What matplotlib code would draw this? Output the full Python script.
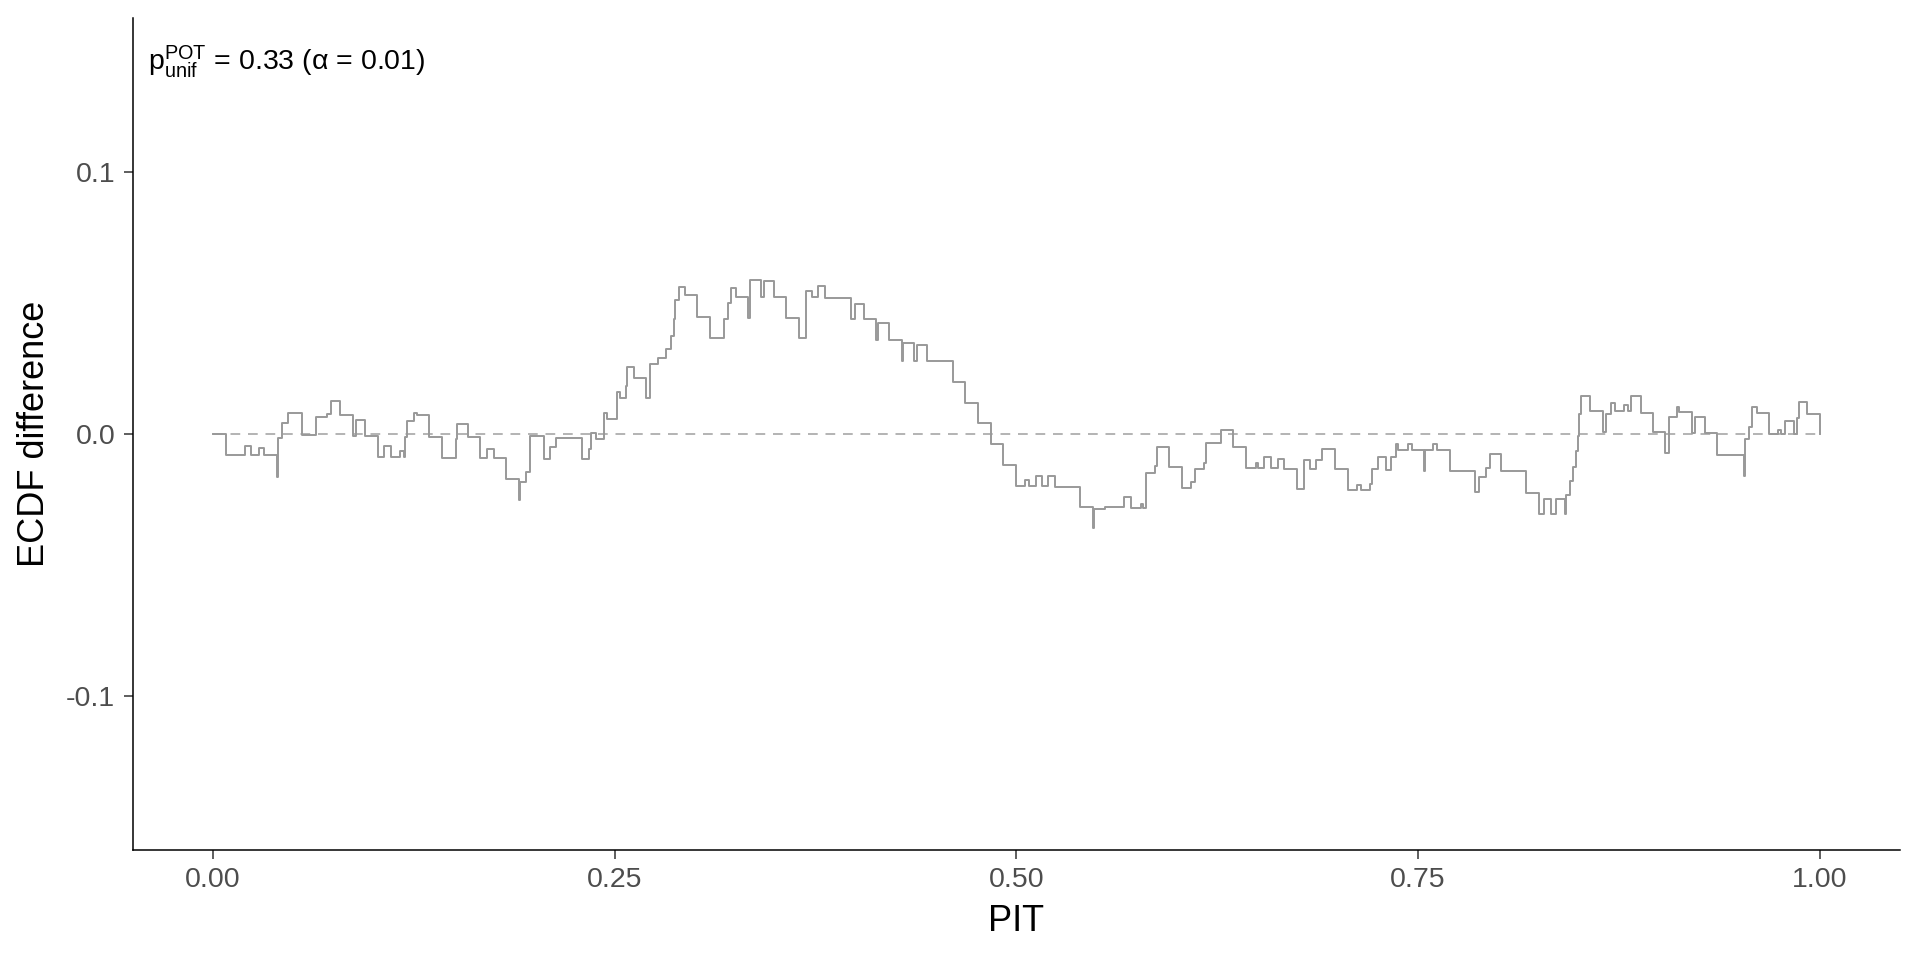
import numpy as np
import matplotlib.pyplot as plt

plt.rcParams["font.family"] = ["Liberation Sans", "DejaVu Sans"]
plt.rcParams["mathtext.fontset"] = "custom"
plt.rcParams["mathtext.rm"] = "Liberation Sans"

# step breakpoints (PIT, ECDF difference)
pit = [
    0.0000, 0.0079, 0.0199, 0.0236, 0.0286, 0.0317, 0.0396, 0.0402, 0.0427, 0.0468,
    0.0552, 0.0641, 0.0707, 0.0736, 0.0792, 0.0873, 0.0887, 0.0949, 0.1028, 0.1066,
    0.1107, 0.1163, 0.1188, 0.1192, 0.1209, 0.1252, 0.1269, 0.1346, 0.1427, 0.1511,
    0.1520, 0.1586, 0.1664, 0.1707, 0.1748, 0.1822, 0.1905, 0.1913, 0.1951, 0.1972,
    0.2060, 0.2096, 0.2133, 0.2299, 0.2338, 0.2355, 0.2382, 0.2434, 0.2452, 0.2515,
    0.2535, 0.2568, 0.2577, 0.2620, 0.2697, 0.2722, 0.2769, 0.2821, 0.2848, 0.2867,
    0.2873, 0.2900, 0.2935, 0.3012, 0.3095, 0.3180, 0.3205, 0.3221, 0.3252, 0.3331,
    0.3340, 0.3412, 0.3429, 0.3491, 0.3568, 0.3646, 0.3692, 0.3729, 0.3764, 0.3808,
    0.3968, 0.3993, 0.4049, 0.4127, 0.4137, 0.4206, 0.4289, 0.4297, 0.4366, 0.4382,
    0.4445, 0.4604, 0.4683, 0.4762, 0.4843, 0.4919, 0.4998, 0.5056, 0.5081, 0.5122,
    0.5160, 0.5199, 0.5238, 0.5396, 0.5475, 0.5485, 0.5552, 0.5672, 0.5713, 0.5775,
    0.5790, 0.5810, 0.5864, 0.5873, 0.5951, 0.6030, 0.6090, 0.6113, 0.6169, 0.6180,
    0.6273, 0.6350, 0.6429, 0.6490, 0.6507, 0.6542, 0.6588, 0.6629, 0.6667, 0.6745,
    0.6791, 0.6828, 0.6868, 0.6903, 0.6984, 0.7065, 0.7123, 0.7143, 0.7200, 0.7216,
    0.7253, 0.7299, 0.7330, 0.7361, 0.7378, 0.7436, 0.7461, 0.7537, 0.7545, 0.7593,
    0.7620, 0.7697, 0.7855, 0.7880, 0.7921, 0.7948, 0.8014, 0.8174, 0.8252, 0.8284,
    0.8325, 0.8357, 0.8414, 0.8418, 0.8443, 0.8464, 0.8485, 0.8497, 0.8501, 0.8512,
    0.8570, 0.8653, 0.8667, 0.8698, 0.8729, 0.8781, 0.8808, 0.8823, 0.8889, 0.8962,
    0.9040, 0.9065, 0.9109, 0.9123, 0.9206, 0.9222, 0.9285, 0.9361, 0.9527, 0.9537,
    0.9558, 0.9579, 0.9611, 0.9683, 0.9741, 0.9762, 0.9787, 0.9838, 0.9859, 0.9874,
    0.9922, 1.0000,
]
ecdf_diff = [
    0.0000, -0.0081, -0.0046, -0.0081, -0.0052, -0.0081, -0.0163, -0.0017, 0.0043, 0.0079,
    -0.0005, 0.0064, 0.0076, 0.0127, 0.0071, -0.0008, 0.0053, -0.0008, -0.0087, -0.0046,
    -0.0087, -0.0064, -0.0087, -0.0010, 0.0050, 0.0081, 0.0071, -0.0010, -0.0090, -0.0020,
    0.0040, -0.0013, -0.0093, -0.0056, -0.0093, -0.0172, -0.0253, -0.0184, -0.0144, -0.0008,
    -0.0095, -0.0051, -0.0017, -0.0097, -0.0059, 0.0003, -0.0019, 0.0081, 0.0059, 0.0162,
    0.0137, 0.0184, 0.0257, 0.0215, 0.0136, 0.0267, 0.0291, 0.0323, 0.0374, 0.0438,
    0.0511, 0.0562, 0.0531, 0.0448, 0.0368, 0.0438, 0.0499, 0.0556, 0.0524, 0.0443,
    0.0590, 0.0524, 0.0584, 0.0522, 0.0444, 0.0365, 0.0547, 0.0522, 0.0565, 0.0520,
    0.0439, 0.0495, 0.0439, 0.0359, 0.0426, 0.0359, 0.0280, 0.0349, 0.0280, 0.0340,
    0.0280, 0.0198, 0.0120, 0.0041, -0.0038, -0.0118, -0.0198, -0.0176, -0.0198, -0.0160,
    -0.0198, -0.0160, -0.0201, -0.0280, -0.0360, -0.0288, -0.0280, -0.0239, -0.0284, -0.0268,
    -0.0284, -0.0150, -0.0122, -0.0048, -0.0127, -0.0207, -0.0185, -0.0134, -0.0110, -0.0036,
    0.0015, -0.0051, -0.0131, -0.0112, -0.0131, -0.0087, -0.0131, -0.0094, -0.0134, -0.0211,
    -0.0099, -0.0134, -0.0099, -0.0056, -0.0135, -0.0214, -0.0195, -0.0214, -0.0190, -0.0135,
    -0.0089, -0.0137, -0.0087, -0.0038, -0.0061, -0.0038, -0.0061, -0.0140, -0.0061, -0.0038,
    -0.0061, -0.0140, -0.0220, -0.0165, -0.0131, -0.0076, -0.0142, -0.0226, -0.0305, -0.0250,
    -0.0305, -0.0250, -0.0305, -0.0235, -0.0178, -0.0125, -0.0066, -0.0006, 0.0076, 0.0144,
    0.0087, 0.0006, 0.0076, 0.0117, 0.0087, 0.0110, 0.0087, 0.0146, 0.0080, 0.0006,
    -0.0074, 0.0064, 0.0102, 0.0083, 0.0004, 0.0066, 0.0003, -0.0079, -0.0160, -0.0019,
    0.0025, 0.0102, 0.0079, 0.0000, 0.0017, 0.0000, 0.0048, 0.0000, 0.0060, 0.0121,
    0.0076, 0.0000,
]

x_ticks = [0.0, 0.25, 0.5, 0.75, 1.0]
x_tick_labels = ["0.00", "0.25", "0.50", "0.75", "1.00"]
y_ticks = [-0.1, 0.0, 0.1]
y_tick_labels = ["-0.1", "0.0", "0.1"]
p_value = 0.33
alpha = 0.01

fig = plt.figure(figsize=(19.2, 9.6), dpi=100)
ax = fig.add_axes([0.0691, 0.1146, 0.9205, 0.8667])

ax.plot([0, 1], [0, 0], color="#b3b3b3", lw=1.4, ls=(0, (5, 4)))
ax.step(pit, ecdf_diff, where="post", color="#999999", lw=1.4)

ax.set_xlim(-0.05, 1.05)
ax.set_ylim(-0.159, 0.159)
ax.set_xticks(x_ticks, labels=x_tick_labels)
ax.set_yticks(y_ticks, labels=y_tick_labels)
ax.tick_params(axis="both", labelsize=20.5, labelcolor="#4d4d4d", color="#333333",
               length=6.5, width=1.1, pad=6)

for side in ["top", "right"]:
    ax.spines[side].set_visible(False)
for side in ["left", "bottom"]:
    ax.spines[side].set_linewidth(1.1)
    ax.spines[side].set_color("black")

ax.set_xlabel("PIT", fontsize=26, labelpad=8)
ax.set_ylabel("ECDF difference", fontsize=26, labelpad=10)

ax.text(0.0087, 0.9375,
        r"$\mathregular{p^{POT}_{unif}}$" + f" = {p_value:.2f} (α = {alpha:.2f})",
        transform=ax.transAxes, fontsize=20.5, va="baseline", ha="left", color="black")

fig.savefig("out.png", dpi=100)
